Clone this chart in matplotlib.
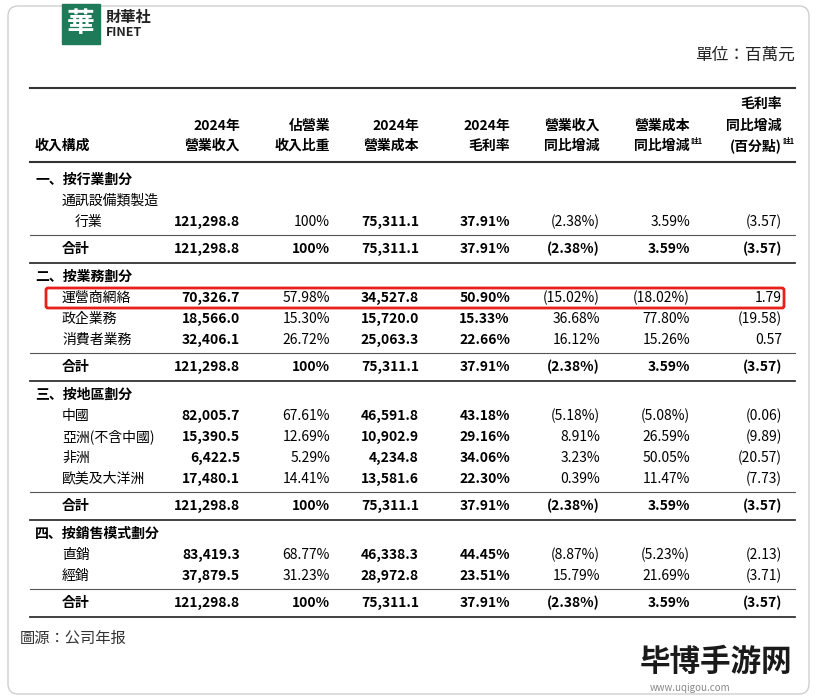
import matplotlib
matplotlib.use("Agg")
import matplotlib.pyplot as plt
from matplotlib.patches import Rectangle, FancyBboxPatch

plt.rcParams["font.family"] = ["Noto Sans CJK JP", "Noto Sans CJK TC", "Noto Sans CJK SC", "DejaVu Sans"]

headers = [["2024年", "營業收入"], ["佔營業", "收入比重"], ["2024年", "營業成本"],
           ["2024年", "毛利率"], ["營業收入", "同比增減"], ["營業成本", "同比增減"],
           ["毛利率", "同比增減", "(百分點)"]]
sections = [
    ("一、按行業劃分", [
        (["通訊設備類製造", "行業"], ["121,298.8", "100%", "75,311.1", "37.91%", "(2.38%)", "3.59%", "(3.57)"]),
    ]),
    ("二、按業務劃分", [
        ("運營商網絡", ["70,326.7", "57.98%", "34,527.8", "50.90%", "(15.02%)", "(18.02%)", "1.79"]),
        ("政企業務", ["18,566.0", "15.30%", "15,720.0", "15.33%", "36.68%", "77.80%", "(19.58)"]),
        ("消費者業務", ["32,406.1", "26.72%", "25,063.3", "22.66%", "16.12%", "15.26%", "0.57"]),
    ]),
    ("三、按地區劃分", [
        ("中國", ["82,005.7", "67.61%", "46,591.8", "43.18%", "(5.18%)", "(5.08%)", "(0.06)"]),
        ("亞洲(不含中國)", ["15,390.5", "12.69%", "10,902.9", "29.16%", "8.91%", "26.59%", "(9.89)"]),
        ("非洲", ["6,422.5", "5.29%", "4,234.8", "34.06%", "3.23%", "50.05%", "(20.57)"]),
        ("歐美及大洋洲", ["17,480.1", "14.41%", "13,581.6", "22.30%", "0.39%", "11.47%", "(7.73)"]),
    ]),
    ("四、按銷售模式劃分", [
        ("直銷", ["83,419.3", "68.77%", "46,338.3", "44.45%", "(8.87%)", "(5.23%)", "(2.13)"]),
        ("經銷", ["37,879.5", "31.23%", "28,972.8", "23.51%", "15.79%", "21.69%", "(3.71)"]),
    ]),
]
total = ["121,298.8", "100%", "75,311.1", "37.91%", "(2.38%)", "3.59%", "(3.57)"]

col_x = [240, 330, 419, 510, 600, 690, 782]
bold_cols = {0, 2, 3}
fs = 10

fig = plt.figure(figsize=(8.17, 7), dpi=100)
ax = fig.add_axes([0, 0, 1, 1])
ax.set_xlim(0, 817); ax.set_ylim(700, 0); ax.axis("off")

ax.add_patch(FancyBboxPatch((8, 6), 801, 688, boxstyle="round,pad=0,rounding_size=10",
                            fill=False, ec="#cfcfcf", lw=1))
ax.add_patch(Rectangle((62, 4), 38, 40, color="#1f7a5a"))
ax.text(81, 24, "華", color="white", fontsize=20, ha="center", va="center", fontweight="bold")
ax.text(106, 17, "財華社", fontsize=11, fontweight="bold", va="center", color="#222")
ax.text(106, 33, "FINET", fontsize=9, fontweight="bold", va="center", color="#222")

ax.text(795, 55, "單位：百萬元", fontsize=12, ha="right", va="center", color="#222")

def hline(y, lw=1.0, c="#555"):
    ax.plot([30, 795], [y, y], color=c, lw=lw)

hline(88, 1.5, "#333")
ax.text(35, 146, "收入構成", fontsize=fs, fontweight="bold", va="center")
for x, h in zip(col_x, headers):
    ys = [126, 146] if len(h) == 2 else [104, 126, 146]
    for y, t in zip(ys, h):
        ax.text(x, y, t, fontsize=fs, fontweight="bold", ha="right", va="center")
ax.text(col_x[5] + 1, 141, "註1", fontsize=5.5, fontweight="bold", ha="left", va="center")
ax.text(col_x[6] + 1, 141, "註1", fontsize=5.5, fontweight="bold", ha="left", va="center")
hline(162, 1.5, "#333")

def values(y, vals, allbold=False):
    for i, (x, v) in enumerate(zip(col_x, vals)):
        ax.text(x, y, v, fontsize=fs, ha="right", va="center",
                fontweight="bold" if (allbold or i in bold_cols) else "normal")

y = 180
for si, (title, rows) in enumerate(sections):
    ax.text(35, y, title, fontsize=fs, fontweight="bold", va="center")
    y += 21
    for label, vals in rows:
        if isinstance(label, list):
            ax.text(62, y, label[0], fontsize=fs, va="center")
            y += 21
            ax.text(75, y, label[1], fontsize=fs, va="center")
        else:
            ax.text(62, y, label, fontsize=fs, va="center")
        if label == "運營商網絡":
            ax.add_patch(FancyBboxPatch((46, y - 10), 738, 20, boxstyle="round,pad=0,rounding_size=2",
                                        fill=False, ec="#e8201a", lw=2))
        values(y, vals)
        y += 21
    hline(y - 8, 0.8)
    y += 6
    ax.text(62, y, "合計", fontsize=fs, fontweight="bold", va="center")
    values(y, total, True)
    y += 14
    hline(y, 1.3, "#333")
    y += 14

ax.text(20, 638, "圖源：公司年报", fontsize=11, va="center", color="#333")
ax.text(640, 662, "毕博手游网", fontsize=22, fontweight="bold", va="center", color="#1a1a1a")
ax.text(650, 688, "www.uqigou.com", fontsize=7, va="center", color="#888")

fig.savefig("out.png", dpi=100)
